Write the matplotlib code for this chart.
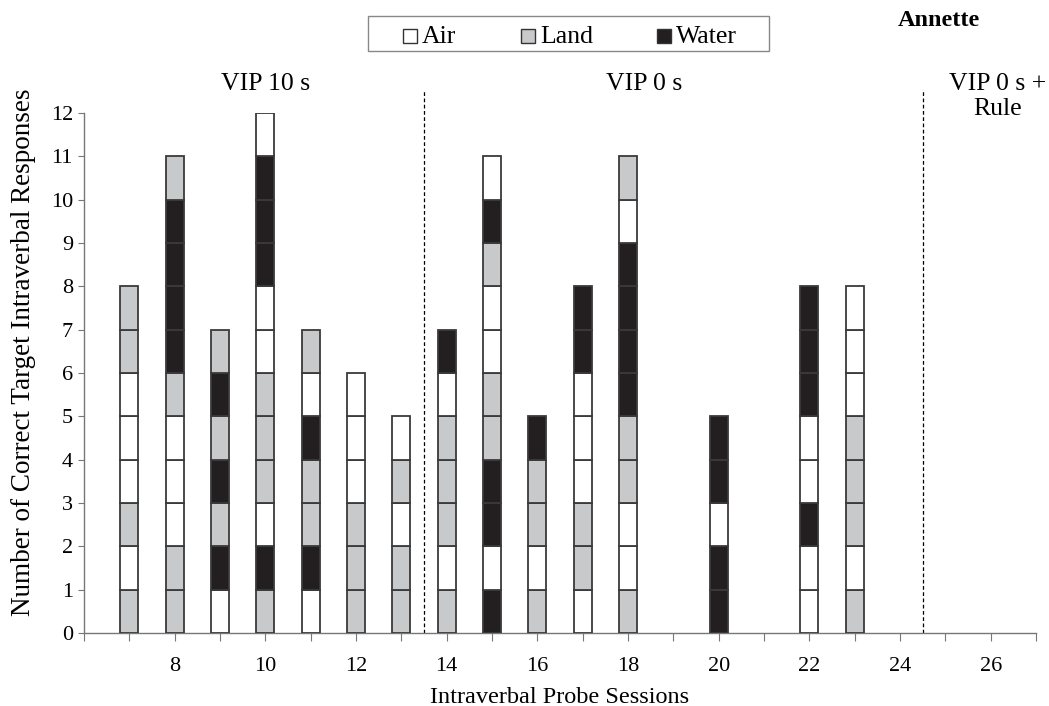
import matplotlib.pyplot as plt
from matplotlib.patches import Rectangle

plt.rcParams['font.family'] = ['Liberation Serif', 'DejaVu Serif']

# session number and the order of correct responses, bottom to top
# A = air, L = land, W = water
sessions = [7, 8, 9, 10, 11, 12, 13, 14, 15, 16, 17, 18, 20, 22, 23]
sequences = ['LALAAALL', 'LLAAALWWWWL', 'AWLWLWL', 'LWALLLAAWWWA',
             'AWLLWAL', 'LLLAAA', 'LLALA', 'LALLLAW', 'WAWWLLAALWA',
             'LALLW', 'ALLAAAWW', 'LAALLWWWWAL', 'WWAWW', 'AAWAAWWW',
             'LALLLAAA']

categories = ['Air', 'Land', 'Water']
codes = ['A', 'L', 'W']
colors = {'A': 'white', 'L': '#c8c9cb', 'W': '#231f20'}

phase_names = ['VIP 10 s', 'VIP 0 s', 'VIP 0 s +\nRule']
phase_x = [10.0, 18.35, 26.15]
phase_lines = [13.5, 24.5]

W, H = 1049, 706
fig = plt.figure(figsize=(W / 100, H / 100), dpi=100)
ax = fig.add_axes([84 / W, 1 - 633 / H, 952 / W, 520 / H])

for s, seq in zip(sessions, sequences):
    for i, c in enumerate(seq):
        ax.bar(s, 1, bottom=i, width=0.4, color=colors[c],
               edgecolor='#3a3a3a', linewidth=1.3, zorder=3)

for xl in phase_lines:
    ax.plot([xl, xl], [0, 12.53], color='black', linestyle=(0, (3, 2)),
            linewidth=0.9, clip_on=False, zorder=2)

for name, px in zip(phase_names, phase_x):
    ax.text(px, 12.92, name, ha='center', va='top', fontsize=18.5,
            linespacing=1.15)

ax.set_xlim(6, 27)
ax.set_ylim(0, 12)
ax.set_xticks(range(6, 28))
ax.set_xticklabels([str(t) if t % 2 == 0 and t >= 8 else '' for t in range(6, 28)])
ax.set_yticks(range(0, 13))
ax.tick_params(axis='x', direction='out', length=6, pad=11, labelsize=16,
               color='#777777')
ax.tick_params(axis='y', direction='out', length=4, pad=4, labelsize=16,
               color='#777777')
for side in ['top', 'right']:
    ax.spines[side].set_visible(False)
for side in ['left', 'bottom']:
    ax.spines[side].set_color('#777777')
    ax.spines[side].set_linewidth(1.0)

ax.set_xlabel('Intraverbal Probe Sessions', fontsize=17.5)
ax.xaxis.set_label_coords(0.5, -0.103)
ax.set_ylabel('Number of Correct Target Intraverbal Responses', fontsize=19.5)
ax.yaxis.set_label_coords(-0.05, 0.54)

# legend box drawn in figure pixels to match the wide padding
fig.patches.append(Rectangle((368 / W, 1 - 51 / H), 401 / W, 35 / H,
                             transform=fig.transFigure, facecolor='white',
                             edgecolor='#888888', linewidth=1.0))
handle_x = [403, 521, 657]
for hx, c, n in zip(handle_x, codes, categories):
    fig.patches.append(Rectangle((hx / W, 1 - 43 / H), 14 / W, 14 / H,
                                 transform=fig.transFigure, facecolor=colors[c],
                                 edgecolor='#333333', linewidth=1.0))
    fig.text((hx + 19) / W, 1 - 43 / H, n, ha='left', va='baseline',
             fontsize=18.5)

fig.text(939 / W, 1 - 21 / H, 'Annette', ha='center', va='center',
         fontsize=17.5, fontweight='bold')

fig.savefig('out.png', dpi=100)
